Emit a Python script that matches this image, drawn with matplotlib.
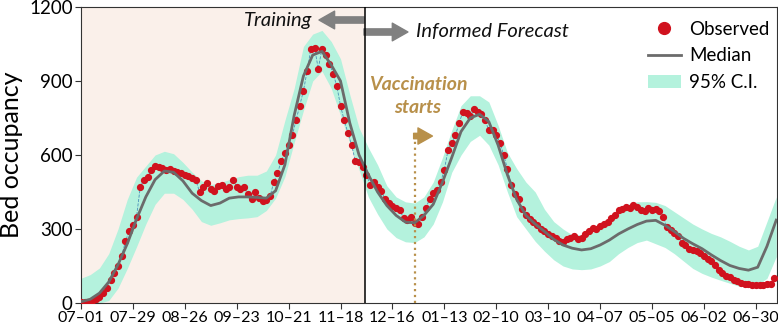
import matplotlib
matplotlib.use("Agg")
import matplotlib.pyplot as plt
import matplotlib.dates as mdates
from matplotlib.lines import Line2D
from matplotlib.patches import Patch
import pandas as pd

plt.rcParams["font.family"] = ["Lato", "DejaVu Sans"]

# observed bed occupancy, every 2 days from 2020-07-01
observed = [
    2, 3, 5, 8, 15, 25, 40, 62, 95, 120,
    150, 190, 250, 290, 315, 350, 470, 500, 510, 540,
    555, 552, 548, 540, 545, 535, 530, 528, 520, 515,
    505, 498, 450, 470, 488, 462, 455, 475, 478, 462,
    470, 500, 472, 462, 470, 440, 420, 450, 425, 415,
    418, 432, 490, 525, 575, 610, 640, 680, 740, 800,
    860, 940, 1030, 1035, 950, 1030, 1005, 970, 930, 880,
    800, 740, 690, 640, 575, 570, 550, 520, 480, 490,
    470, 455, 420, 405, 395, 385, 375, 345, 335, 350,
    325, 320, 350, 385, 420, 445, 460, 490, 540, 620,
    650, 680, 730, 775, 770, 760, 785, 775, 765, 740,
    700, 700, 680, 650, 600, 545, 480, 440, 420, 380,
    355, 340, 330, 315, 300, 290, 280, 270, 262, 250,
    248, 258, 265, 272, 258, 262, 280, 292, 305, 300,
    312, 322, 330, 345, 355, 375, 380, 390, 385, 398,
    390, 375, 372, 385, 378, 380, 372, 350, 310, 295,
    285, 270, 245, 235, 220, 215, 210, 203, 190, 180,
    172, 155, 135, 120, 110, 105, 95, 88, 80, 78,
    75, 72, 74, 73, 72, 75, 76, 100,
]

# model median and 95% C.I., every 5 days from 2020-07-01
median = [
    5, 15, 40, 85, 155, 240, 340, 430, 500, 535,
    530, 495, 445, 415, 395, 405, 425, 430, 430, 428,
    425, 455, 560, 760, 920, 1005, 1020, 965, 900, 730,
    600, 520, 450, 395, 355, 328, 325, 355, 400, 490,
    590, 695, 750, 765, 735, 640, 520, 420, 355, 320,
    290, 258, 235, 222, 215, 220, 235, 255, 280, 300,
    318, 332, 335, 315, 290, 262, 240, 220, 195, 172,
    152, 140, 133, 145, 230, 336,
]
ci_upper = [
    100, 115, 142, 200, 300, 420, 510, 555, 600, 615,
    605, 570, 530, 495, 480, 488, 500, 512, 518, 518,
    535, 600, 740, 870, 1040, 1090, 1105, 1060, 990, 845,
    710, 630, 560, 475, 430, 410, 405, 430, 490, 590,
    700, 800, 840, 840, 815, 720, 610, 545, 490, 450,
    380, 330, 300, 276, 278, 284, 300, 330, 380, 400,
    410, 411, 408, 395, 370, 345, 320, 300, 282, 268,
    250, 230, 215, 230, 330, 430,
]
ci_lower = [
    0, 0, 0, 10, 60, 140, 228, 320, 400, 445,
    445, 420, 380, 330, 315, 325, 337, 342, 345, 350,
    375, 425, 512, 650, 780, 900, 940, 870, 760, 650,
    540, 430, 360, 300, 265, 248, 245, 268, 320, 410,
    530, 600, 655, 680, 640, 560, 450, 350, 300, 250,
    210, 175, 150, 138, 135, 138, 150, 168, 200, 225,
    245, 255, 240, 225, 200, 170, 140, 120, 105, 92,
    80, 68, 65, 75, 100, 188,
]

start = pd.Timestamp("2020-07-01")
training_end = pd.Timestamp("2020-12-01")
vaccination = pd.Timestamp("2020-12-28")
obs_dates = pd.date_range(start, periods=len(observed), freq="2D")
model_dates = pd.date_range(start, periods=len(median), freq="5D")
tick_dates = pd.date_range(start, periods=14, freq="28D")

red = "#d0121e"
grey = "#6b6b6b"
band = "#b4f2dd"
gold = "#b8904a"

fig = plt.figure(figsize=(7.78, 3.26), dpi=100)
ax = fig.add_axes([0.104, 0.0706, 0.8947, 0.908])

ax.axvspan(start, training_end, color="#faf0ea", zorder=0, lw=0)
ax.fill_between(model_dates, ci_lower, ci_upper, color=band, lw=0, zorder=1)
ax.plot(obs_dates, observed, ls="--", lw=0.6, color="#4a90b8", zorder=2)
ax.plot(obs_dates, observed, "o", ms=4.2, color=red, mec=red, zorder=3)
ax.plot(model_dates, median, color=grey, lw=2, zorder=4)

ax.axvline(training_end, color="black", lw=1.1, zorder=5)
ax.plot([vaccination, vaccination], [0, 680], ls=":", lw=1.6, color=gold, zorder=5)

ax.set_xlim(start, start + pd.Timedelta(days=375.4))
ax.set_ylim(0, 1200)
ax.set_yticks([0, 300, 600, 900, 1200])
ax.set_xticks(tick_dates)
ax.xaxis.set_major_formatter(mdates.DateFormatter("%m\u2013%d"))
ax.tick_params(axis="x", labelsize=11.5, length=4, color="#333333", pad=2)
ax.tick_params(axis="y", labelsize=13.5, length=4, color="#333333", pad=2)
for s in ax.spines.values():
    s.set_color("#333333")
ax.set_ylabel("Bed occupancy", fontsize=18, labelpad=4)

# training / forecast arrows
arrow = "simple,head_width=0.85,head_length=0.75,tail_width=0.3"
ax.annotate("", xy=(0.342, 0.956), xytext=(0.4066, 0.956), xycoords="axes fraction",
            arrowprops=dict(arrowstyle=arrow, color="#808080", mutation_scale=15, shrinkA=0, shrinkB=0))
ax.annotate("", xy=(0.4698, 0.9155), xytext=(0.4066, 0.9155), xycoords="axes fraction",
            arrowprops=dict(arrowstyle=arrow, color="#808080", mutation_scale=15, shrinkA=0, shrinkB=0))
ax.text(0.332, 0.956, "Training", transform=ax.transAxes, ha="right", va="center",
        fontsize=14.5, style="italic", color="#111111")
ax.text(0.482, 0.9155, "Informed Forecast", transform=ax.transAxes, ha="left", va="center",
        fontsize=14.5, style="italic", color="#111111")

# vaccination note
ax.text(0.484, 0.70, "Vaccination\nstarts", transform=ax.transAxes, ha="center", va="center",
        fontsize=14, style="italic", weight="bold", color=gold, linespacing=1.4)
ax.annotate("", xy=(0.505, 0.564), xytext=(0.478, 0.564), xycoords="axes fraction",
            arrowprops=dict(arrowstyle="simple,head_width=0.9,head_length=0.8,tail_width=0.3",
                            color=gold, mutation_scale=13, shrinkA=0, shrinkB=0))

handles = [
    Line2D([], [], marker="o", ls="", ms=8.5, color=red),
    Line2D([], [], color=grey, lw=2),
    Patch(facecolor=band, edgecolor="none"),
]
ax.legend(handles, ["Observed", "Median", "95% C.I."], loc="upper left",
          bbox_to_anchor=(0.79, 1.01), frameon=False, fontsize=13.5, handlelength=1.75,
          handletextpad=0.45, labelspacing=0.5)

fig.savefig("out.png", dpi=100)
